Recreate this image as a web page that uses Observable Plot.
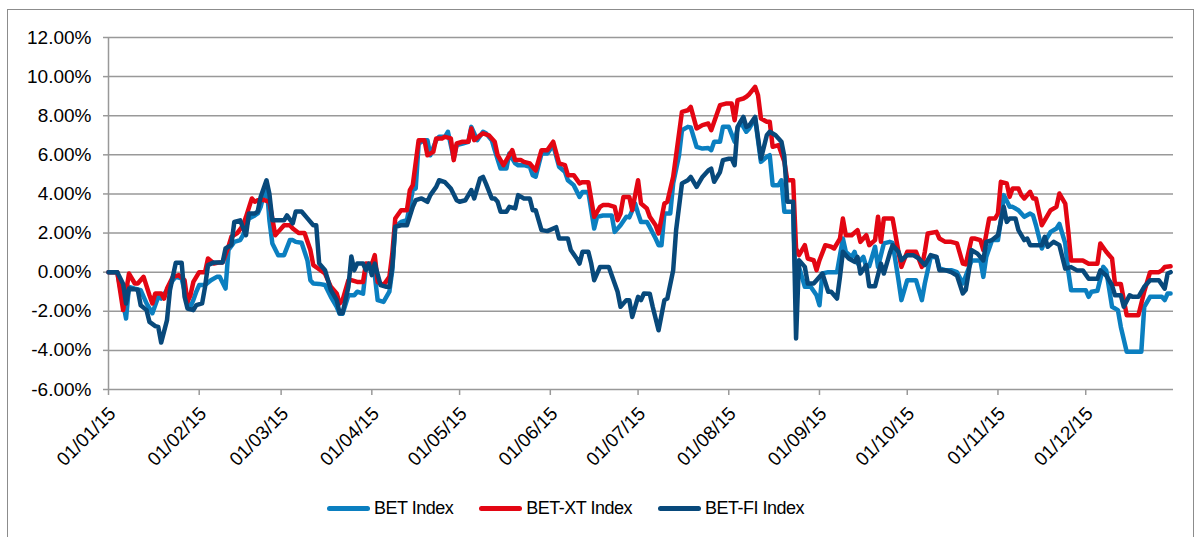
<!DOCTYPE html>
<html>
<head>
<meta charset="utf-8">
<script src="https://cdn.jsdelivr.net/npm/d3@7"></script>
<script src="https://cdn.jsdelivr.net/npm/@observablehq/plot@0.6"></script>
<style>
  html, body { margin: 0; padding: 0; background: #fff; }
  body { width: 1201px; height: 537px; position: relative; overflow: hidden; font-family: Arial, "Liberation Sans", sans-serif; }
  #frame { position: absolute; left: 7px; top: 9px; width: 1187px; height: 560px; border: 1.5px solid #8c8c8c; box-sizing: border-box; }
  #chart { position: absolute; left: 0; top: 0; }
  #legend { position: absolute; left: 327px; top: 498px; display: flex; align-items: center; font-size: 18px; letter-spacing: -0.5px; color: #000; }
  .item { display: flex; align-items: center; margin-right: 26px; }
  .sw { width: 43px; height: 5px; border-radius: 3px; margin-right: 4px; }
</style>
</head>
<body>
<div id="frame"></div>
<div id="chart"></div>
<div id="legend"></div>
<script>
// Series names and colours
const seriesNames = ["BET Index", "BET-XT Index", "BET-FI Index"];
const seriesColors = ["#0b7fc0", "#e30613", "#08497b"];

// Y tick values (percent)
const yTicks = [-6, -4, -2, 0, 2, 4, 6, 8, 10, 12];

// [day offset from 01/01/2015, % change]
const bet = [[0,0],[3,0],[6,-2.37],[7,-0.75],[9,-0.84],[11,-0.92],[13,-1.6],[15,-2.1],[17,-1.26],[18,-1.35],[20,-0.92],[22,-0.41],[23,-0.24],[25,-0.32],[27,-1.6],[28,-1.77],[29,-1.43],[30,-1.0],[31,-0.66],[33,-0.66],[35,-0.41],[37,-0.24],[38,-0.24],[40,-0.84],[41,1.13],[43,1.55],[45,1.64],[46,1.89],[48,2.74],[50,2.9],[51,3.0],[52,3.34],[54,4.54],[55,2.65],[56,1.47],[58,0.87],[60,0.87],[62,1.64],[63,1.64],[64,1.55],[66,1.5],[68,0.6],[69,-0.41],[70,-0.58],[72,-0.6],[74,-0.66],[76,-1.26],[78,-1.77],[79,-2.13],[80,-2.13],[82,-1.18],[84,-1.18],[85,-1.0],[87,-1.1],[88,0.27],[90,0.3],[91,-0.15],[92,-1.43],[94,-1.52],[96,-1.0],[97,0.1],[98,2.32],[100,2.57],[102,2.66],[104,4.2],[105,4.28],[106,6.58],[108,6.75],[109,6.75],[110,5.98],[112,6.75],[113,6.92],[115,6.92],[116,7.18],[118,5.82],[119,6.5],[121,6.58],[123,6.67],[124,7.43],[125,7.1],[126,6.75],[128,7.18],[129,7.1],[131,6.75],[132,6.24],[134,5.3],[136,5.3],[137,6.07],[139,5.56],[140,5.47],[142,5.47],[144,5.39],[145,4.96],[146,4.88],[148,6.07],[150,6.07],[152,6.5],[154,5.39],[156,5.13],[157,4.7],[159,4.45],[161,3.85],[162,4.1],[164,4.1],[166,2.23],[167,2.83],[169,2.9],[170,2.9],[172,2.9],[173,2.06],[175,2.4],[177,2.83],[178,2.8],[180,3.51],[181,3.0],[182,2.57],[184,2.57],[185,2.3],[187,1.72],[188,1.38],[189,1.38],[190,3.0],[192,3.0],[193,4.54],[195,5.98],[196,7.26],[198,7.43],[199,7.4],[201,6.41],[203,6.32],[205,6.35],[206,6.24],[207,6.67],[209,6.67],[210,7.43],[212,7.43],[214,6.67],[215,7.35],[216,7.69],[218,7.18],[219,7.35],[221,7.86],[223,5.64],[225,5.9],[226,5.98],[227,4.45],[229,4.45],[230,4.7],[231,3.09],[233,3.09],[234,3.09],[235,-1.26],[236,0.27],[238,-0.75],[240,-0.75],[242,-1.18],[243,-1.69],[244,-0.07],[246,0.0],[247,0.0],[249,0.0],[251,1.72],[252,1.04],[254,0.78],[255,1.04],[256,0.44],[258,0.78],[259,0.27],[260,0.3],[262,1.3],[263,0.27],[265,1.47],[267,1.55],[268,1.5],[270,-0.41],[271,-1.43],[273,-0.41],[275,-0.41],[276,-0.41],[278,-1.43],[279,-0.58],[281,0.78],[283,0.78],[284,0.19],[286,0.1],[288,0.1],[290,0.0],[292,-0.58],[293,-0.2],[295,0.6],[296,0.6],[298,0.6],[299,-0.24],[300,0.78],[302,1.64],[304,1.64],[305,2.66],[306,3.94],[308,3.34],[309,3.34],[311,3.17],[313,2.83],[315,3.0],[316,2.9],[317,2.4],[319,1.21],[320,1.55],[322,2.06],[324,2.23],[325,2.47],[327,1.47],[328,0.09],[329,-0.92],[331,-0.92],[332,-0.92],[334,-0.92],[335,-1.26],[336,-1.0],[338,-0.95],[340,0.27],[341,0.09],[343,-1.77],[345,-1.94],[346,-2.8],[348,-4.07],[350,-4.07],[352,-4.07],[353,-4.07],[354,-1.77],[356,-1.26],[358,-1.26],[360,-1.26],[361,-1.43],[362,-1.09],[363,-1.09]];

const betXT = [[0,0],[3,0],[5,-1.94],[7,-0.07],[9,-0.58],[10,-0.58],[12,-0.24],[14,-1.18],[15,-1.6],[16,-1.09],[18,-1.09],[19,-1.35],[20,-0.84],[22,-0.24],[24,-0.15],[26,-0.41],[27,-1.52],[28,-1.18],[29,-0.5],[31,0],[33,0],[34,0.7],[36,0.44],[38,0.5],[39,0.5],[41,1.3],[42,1.81],[44,2.0],[46,2.4],[47,2.83],[49,3.77],[50,3.6],[51,3.68],[53,3.7],[55,3.6],[57,1.89],[58,2.06],[60,2.4],[62,2.4],[63,2.23],[65,2.0],[67,2.0],[69,1.13],[70,0.36],[72,0.15],[74,-0.07],[76,-0.75],[78,-1.09],[79,-1.6],[80,-1.43],[82,-0.41],[83,-0.41],[85,-0.5],[87,-0.5],[88,0.44],[90,0.4],[91,0.87],[92,-0.5],[94,-0.66],[96,-0.24],[97,0.95],[98,2.74],[100,3.17],[102,3.17],[103,4.2],[104,4.45],[106,6.75],[108,6.75],[109,5.98],[111,6.15],[112,6.84],[114,6.84],[115,6.92],[117,6.84],[118,5.73],[119,6.58],[121,6.67],[123,6.67],[124,7.35],[125,6.75],[127,7.0],[128,7.1],[130,7.0],[132,6.67],[133,5.98],[135,5.47],[136,5.73],[138,6.24],[139,5.73],[141,5.73],[142,5.64],[144,5.56],[146,5.2],[148,6.24],[150,6.24],[152,6.67],[154,5.56],[156,5.47],[157,4.96],[159,4.96],[161,4.54],[162,4.6],[164,4.6],[166,2.83],[168,3.34],[169,3.43],[171,3.43],[173,3.34],[174,2.66],[175,3.0],[176,3.85],[178,3.85],[179,3.17],[181,4.7],[182,3.51],[184,3.26],[185,2.83],[187,2.4],[188,1.98],[190,3.51],[191,3.6],[193,4.88],[194,5.98],[196,8.2],[198,8.28],[199,8.45],[201,7.35],[203,7.52],[205,7.6],[206,7.26],[208,8.11],[209,8.54],[211,8.62],[213,8.62],[214,7.77],[215,8.8],[217,8.88],[218,8.97],[219,9.1],[221,9.48],[222,9.05],[223,7.86],[225,7.69],[226,7.69],[227,6.41],[229,6.5],[231,5.64],[232,4.7],[234,4.7],[235,1.21],[236,0.87],[238,1.38],[239,0.7],[241,0.61],[242,0.1],[243,0.61],[245,1.38],[247,1.3],[248,1.21],[250,1.72],[251,2.74],[252,1.89],[254,1.89],[256,2.15],[257,1.55],[259,1.89],[260,1.38],[262,1.64],[263,2.83],[264,1.55],[265,2.74],[267,2.74],[268,2.74],[270,1.04],[271,0.27],[273,1.04],[275,1.04],[276,1.04],[278,0.27],[279,1.04],[280,1.98],[283,2.06],[284,1.72],[286,1.55],[288,1.55],[290,1.47],[292,0.44],[293,0.4],[295,1.72],[296,1.72],[298,1.64],[299,1.13],[301,2.74],[303,2.74],[304,3.0],[305,4.62],[307,4.54],[308,3.85],[309,4.28],[311,4.28],[312,3.94],[313,3.77],[315,4.11],[316,3.77],[317,3.77],[319,2.4],[320,2.66],[322,3.17],[324,3.34],[325,4.02],[327,3.51],[328,2.15],[329,0.6],[331,0.6],[333,0.6],[335,0.43],[336,0.43],[338,0.43],[339,1.47],[341,1.04],[343,0.7],[344,-0.6],[346,-0.6],[348,-2.2],[349,-2.2],[351,-2.2],[352,-2.2],[354,-1.0],[356,0.0],[357,0.0],[359,0.0],[360,0.09],[361,0.26],[363,0.3]];

const betFI = [[0,0],[3,0],[5,-0.6],[6,-1.6],[7,-0.84],[9,-0.88],[10,-0.9],[11,-1.69],[13,-1.94],[14,-2.54],[16,-2.76],[17,-2.8],[18,-3.6],[20,-2.45],[21,-0.92],[23,0.48],[25,0.48],[26,-1.26],[27,-1.86],[29,-1.94],[30,-1.69],[32,-1.6],[33,-0.75],[34,0.36],[36,0.5],[38,0.5],[39,0.5],[40,1.21],[42,1.4],[43,2.57],[45,2.65],[47,1.89],[48,3.0],[50,3.0],[51,3.1],[52,3.85],[54,4.7],[55,4.0],[56,2.65],[58,2.65],[60,2.65],[61,2.9],[63,2.5],[64,3.1],[66,3.1],[68,2.75],[70,2.4],[71,2.4],[72,0.45],[74,0.1],[76,-0.92],[78,-1.43],[79,-2.1],[80,-2.1],[82,-0.75],[83,0.8],[84,0.1],[85,0.44],[87,0.44],[88,0.1],[89,0.44],[90,-0.15],[91,0.44],[93,-0.66],[95,-0.75],[96,-0.75],[97,0.27],[98,2.32],[100,2.4],[102,2.4],[104,3.34],[105,3.68],[107,3.77],[109,3.6],[110,3.94],[112,4.36],[113,4.7],[115,4.6],[117,4.28],[119,3.68],[120,3.6],[122,3.68],[124,4.2],[125,3.77],[127,4.79],[128,4.87],[129,4.53],[131,3.77],[132,3.77],[133,3.6],[134,3.09],[136,3.09],[137,3.34],[139,3.26],[140,3.94],[142,3.77],[144,3.77],[145,3.17],[146,3.17],[148,2.15],[150,2.1],[153,2.3],[154,1.72],[157,1.72],[158,1.13],[160,0.7],[161,0.44],[162,1.04],[164,1.04],[165,0.44],[166,-0.41],[168,0.27],[169,0.27],[171,0.27],[173,-0.58],[174,-1.0],[175,-1.77],[177,-1.43],[178,-1.43],[179,-2.29],[181,-1.26],[182,-1.43],[183,-1.09],[185,-1.1],[186,-1.77],[188,-2.97],[190,-1.43],[191,-1.35],[193,0.1],[194,2.15],[196,4.54],[198,4.7],[199,4.87],[201,4.36],[203,4.87],[205,5.2],[206,5.29],[207,4.62],[209,5.12],[210,5.73],[212,5.8],[213,5.8],[214,5.47],[215,7.43],[217,7.94],[218,7.43],[219,7.5],[221,7.94],[223,5.8],[225,7.0],[226,7.18],[228,7.0],[230,6.67],[231,5.9],[232,3.6],[234,3.6],[235,-3.39],[236,0.61],[238,0.27],[239,-0.58],[241,-0.58],[242,-0.41],[244,-0.07],[246,-1.0],[247,-1.0],[249,-1.35],[250,-0.24],[251,1.04],[253,0.7],[255,0.53],[256,0.78],[257,-0.07],[259,0.36],[260,-0.72],[262,-0.72],[264,0.44],[265,-0.07],[267,0.95],[268,1.38],[270,1.04],[271,0.61],[273,0.87],[275,0.87],[277,0.7],[279,0.36],[281,0.87],[283,0.78],[284,0.1],[286,0.1],[288,0.0],[290,-0.17],[292,-1.09],[293,-0.9],[294,0.0],[295,1.13],[297,0.95],[299,0.6],[300,1.55],[302,1.64],[304,1.89],[306,3.34],[307,2.57],[308,2.74],[310,2.74],[311,2.15],[313,1.64],[314,1.72],[315,1.38],[317,1.38],[319,1.38],[320,1.81],[321,1.3],[323,1.55],[324,1.47],[325,1.38],[327,0.18],[329,0.26],[331,0.09],[333,0.09],[335,-0.34],[336,-0.34],[338,-0.34],[339,0.09],[341,-0.17],[343,-0.67],[344,-1.18],[346,-1.18],[347,-1.77],[349,-1.18],[350,-1.26],[352,-1.26],[354,-0.75],[356,-0.41],[357,-0.41],[359,-0.41],[361,-0.84],[362,-0.07],[363,0.0]];

const seriesData = [bet, betXT, betFI];

const day0 = Date.UTC(2015, 0, 1);
const toDate = d => new Date(day0 + d * 864e5);
const xDomain = [new Date(day0), new Date(Date.UTC(2015, 11, 31))];
const monthTicks = d3.utcMonth.range(new Date(day0), new Date(Date.UTC(2016, 0, 1)));
const fmtDate = d3.utcFormat("%d/%m/%y");

const rows = seriesData.flatMap((s, i) => s.map(([d, v]) => ({date: toDate(d), value: v, series: seriesNames[i]})));

const chart = Plot.plot({
  width: 1201,
  height: 470,
  marginLeft: 108,
  marginRight: 28,
  marginTop: 37,
  marginBottom: 81,
  style: {fontFamily: "Arial, 'Liberation Sans', sans-serif", fontSize: "19px", background: "transparent", color: "#000", overflow: "visible"},
  x: {type: "utc", domain: xDomain, label: null},
  y: {domain: [-6, 12], label: null},
  color: {domain: seriesNames, range: seriesColors},
  marks: [
    Plot.ruleY(yTicks, {stroke: "#999", strokeWidth: 1.5}),
    Plot.axisY({ticks: yTicks, label: null, tickSize: 5, tickPadding: 12, tickFormat: d => d.toFixed(2) + "%", stroke: "#999", strokeWidth: 1.5, fontSize: 19}),
    // tick marks only
    Plot.axisX({ticks: monthTicks, label: null, tickSize: 6, tickFormat: () => "", stroke: "#999", strokeWidth: 1.5}),
    // rotated tick labels
    Plot.axisX({ticks: monthTicks, label: null, tickSize: 0, tickPadding: 21, dx: 4, tickRotate: -45, tickFormat: fmtDate, fontSize: 19}),
    Plot.ruleX([xDomain[0]], {stroke: "#999", strokeWidth: 1.5}),
    Plot.line(rows, {x: "date", y: "value", z: "series", stroke: "series", strokeWidth: 4.5, strokeLinejoin: "round", strokeLinecap: "round"})
  ]
});
document.getElementById("chart").appendChild(chart);

const legend = document.getElementById("legend");
seriesNames.forEach((name, i) => {
  const item = document.createElement("div");
  item.className = "item";
  const sw = document.createElement("div");
  sw.className = "sw";
  sw.style.background = seriesColors[i];
  const label = document.createElement("span");
  label.textContent = name;
  item.appendChild(sw);
  item.appendChild(label);
  legend.appendChild(item);
});
</script>
</body>
</html>
